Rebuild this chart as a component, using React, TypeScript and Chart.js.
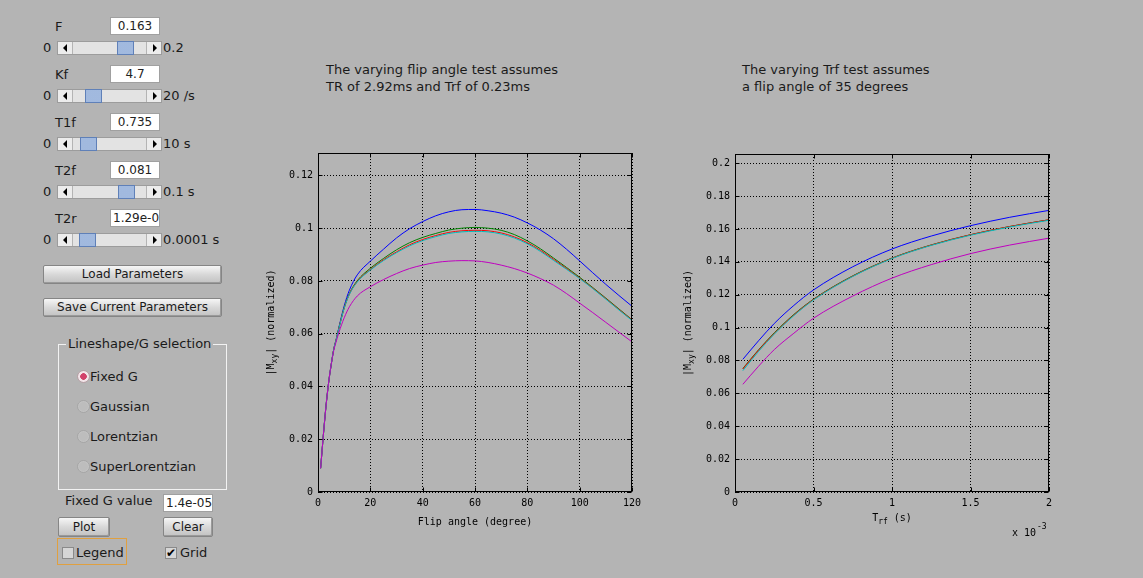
import React, { useEffect, useRef } from "react";
import { Chart, registerables } from "chart.js";
Chart.register(...registerables);

// ---------------- data ----------------
const flipAngles = [1, 2, 3, 4, 5, 6, 7, 8, 10, 12, 15, 20, 25, 30, 35, 40, 45, 50, 55, 60, 65, 70, 75, 80, 85, 90, 95, 100, 105, 110, 115, 120];
const flipBlue = [0.009, 0.021, 0.032, 0.041, 0.048, 0.054, 0.058, 0.0625, 0.0705, 0.0765, 0.0823, 0.0875, 0.092, 0.0963, 0.0998, 0.1025, 0.1047, 0.1062, 0.107, 0.1071, 0.1066, 0.1057, 0.1042, 0.102, 0.0993, 0.096, 0.092, 0.0876, 0.0831, 0.0787, 0.0745, 0.0704];
const flipGreen = [0.009, 0.021, 0.032, 0.041, 0.048, 0.054, 0.058, 0.0622, 0.0698, 0.0752, 0.0801, 0.0848, 0.0885, 0.0918, 0.0945, 0.0965, 0.098, 0.0993, 0.1, 0.1003, 0.1, 0.0992, 0.0976, 0.0952, 0.0922, 0.0887, 0.0851, 0.0814, 0.0775, 0.0735, 0.0694, 0.0653];
const flipRed = [0.009, 0.021, 0.032, 0.041, 0.048, 0.054, 0.058, 0.0621, 0.0697, 0.075, 0.0798, 0.0843, 0.088, 0.091, 0.0937, 0.0957, 0.0972, 0.0984, 0.099, 0.0992, 0.099, 0.0982, 0.0967, 0.0945, 0.0916, 0.0882, 0.0847, 0.0811, 0.0773, 0.0733, 0.0692, 0.0652];
const flipCyan = [0.009, 0.021, 0.032, 0.041, 0.048, 0.054, 0.058, 0.062, 0.0696, 0.0749, 0.0796, 0.0841, 0.0877, 0.0907, 0.0933, 0.0953, 0.0968, 0.098, 0.0986, 0.0988, 0.0986, 0.0978, 0.0963, 0.0941, 0.0912, 0.0878, 0.0844, 0.0809, 0.0771, 0.0731, 0.069, 0.065];
const flipMagenta = [0.009, 0.021, 0.032, 0.041, 0.048, 0.0535, 0.0572, 0.0605, 0.066, 0.0702, 0.0743, 0.0778, 0.0805, 0.0828, 0.0847, 0.086, 0.087, 0.0875, 0.0877, 0.0876, 0.087, 0.086, 0.0847, 0.083, 0.0809, 0.0784, 0.0752, 0.0716, 0.068, 0.0643, 0.0606, 0.0569];

const trfValues = [0.05, 0.15, 0.25, 0.375, 0.5, 0.75, 1, 1.25, 1.5, 1.75, 2]; // x 10^-3 s
const trfBlue = [0.0807, 0.092, 0.1025, 0.1135, 0.1229, 0.137, 0.1478, 0.1557, 0.162, 0.1671, 0.1713];
const trfGreen = [0.0751, 0.0865, 0.0968, 0.108, 0.1173, 0.1315, 0.1423, 0.1503, 0.1565, 0.1615, 0.1656];
const trfRed = [0.0748, 0.0862, 0.0965, 0.1077, 0.1171, 0.1313, 0.1422, 0.1502, 0.1565, 0.1615, 0.1656];
const trfCyan = [0.0738, 0.0855, 0.096, 0.1073, 0.1168, 0.1311, 0.142, 0.15, 0.1562, 0.1612, 0.1653];
const trfMagenta = [0.0655, 0.0765, 0.0866, 0.0966, 0.1057, 0.1192, 0.1301, 0.1383, 0.145, 0.1502, 0.1544];

const flipYMax = 0.1285;
const trfYMax = 0.2056;

// ---------------- styles ----------------
const COLORS = ["#0000ff", "#008000", "#ff0000", "#00bfbf", "#bf00bf"];
const BG = "#b4b4b4";
const UI_FONT = '"DejaVu Sans", sans-serif';
const MONO = '"DejaVu Sans Mono", monospace';

type Seg = { t: string; sub?: boolean; sup?: boolean };

function drawSegs(ctx: CanvasRenderingContext2D, segs: Seg[], cx: number, cy: number, size: number, align: "center" | "left") {
  const big = `${size}px ${MONO}`;
  const small = `${Math.round(size * 0.8)}px ${MONO}`;
  const widths = segs.map((s) => {
    ctx.font = s.sub || s.sup ? small : big;
    return ctx.measureText(s.t).width;
  });
  const total = widths.reduce((a, b) => a + b, 0);
  let x = align === "center" ? cx - total / 2 : cx;
  ctx.textAlign = "left";
  ctx.textBaseline = "middle";
  segs.forEach((s, i) => {
    ctx.font = s.sub || s.sup ? small : big;
    ctx.fillText(s.t, x, cy + (s.sub ? 4 : s.sup ? -6 : 0));
    x += widths[i];
  });
}

function matlabPlugin(o: any) {
  return {
    id: "matlabAxes",
    afterDraw(chart: any) {
      const { ctx, chartArea: a, scales } = chart;
      ctx.save();
      ctx.setLineDash([]);
      ctx.strokeStyle = "#000";
      ctx.lineWidth = 1;
      const l = Math.round(a.left) + 0.5;
      const r = Math.round(a.right) - 0.5;
      const t = Math.round(a.top) + 0.5;
      const b = Math.round(a.bottom) - 0.5;
      ctx.strokeRect(l, t, r - l, b - t);
      const tl = 4;
      ctx.beginPath();
      scales.x.ticks.forEach((tk: any) => {
        const px = Math.round(scales.x.getPixelForValue(tk.value)) + 0.5;
        ctx.moveTo(px, b);
        ctx.lineTo(px, b - tl);
        ctx.moveTo(px, t);
        ctx.lineTo(px, t + tl);
      });
      scales.y.ticks.forEach((tk: any) => {
        const py = Math.round(scales.y.getPixelForValue(tk.value)) + 0.5;
        ctx.moveTo(l, py);
        ctx.lineTo(l + tl, py);
        ctx.moveTo(r, py);
        ctx.lineTo(r - tl, py);
      });
      ctx.stroke();
      ctx.fillStyle = "#000";
      drawSegs(ctx, o.xTitle, (a.left + a.right) / 2, o.xTitleY, 10, "center");
      ctx.save();
      ctx.translate(o.yTitleX, (a.top + a.bottom) / 2);
      ctx.rotate(-Math.PI / 2);
      drawSegs(ctx, o.yTitle, 0, 0, 10, "center");
      ctx.restore();
      if (o.exponent) {
        drawSegs(ctx, [{ t: "x 10" }], o.exponent.x, o.exponent.y, 10, "left");
        drawSegs(ctx, [{ t: "-3", sup: true }], o.exponent.x + 25, o.exponent.y, 10, "left");
      }
      ctx.restore();
    },
  };
}

const fmt = (v: any) => String(parseFloat(Number(v).toFixed(4)));

function stepTicks(min: number, max: number, step: number) {
  const out: { value: number }[] = [];
  for (let k = 0; min + k * step <= max + 1e-9; k++) out.push({ value: parseFloat((min + k * step).toFixed(6)) });
  return out;
}

function buildConfig(o: any): any {
  const tickFont = { family: MONO, size: 10 };
  return {
    type: "line",
    data: {
      datasets: o.series.map((s: number[], i: number) => ({
        data: o.xs.map((x: number, j: number) => ({ x, y: s[j] })),
        borderColor: COLORS[i],
        borderWidth: 1,
        pointRadius: 0,
        fill: false,
        cubicInterpolationMode: "monotone",
        order: o.series.length - i,
      })),
    },
    options: {
      animation: false,
      responsive: false,
      devicePixelRatio: 1,
      layout: { padding: o.padding },
      plugins: { legend: { display: false }, tooltip: { enabled: false } },
      scales: {
        x: {
          type: "linear",
          min: o.xMin,
          max: o.xMax,
          afterFit: (s: any) => {
            s.height = o.xAxisHeight;
          },
          afterBuildTicks: (s: any) => {
            s.ticks = stepTicks(o.xMin, o.xMax, o.xStep);
          },
          ticks: { stepSize: o.xStep, font: tickFont, color: "#000", padding: 5, maxRotation: 0, autoSkip: false, callback: fmt },
          grid: { color: "#000", lineWidth: 1, drawTicks: false },
          border: { display: false, dash: [1, 2] },
        },
        y: {
          type: "linear",
          min: 0,
          max: o.yMax,
          afterFit: (s: any) => {
            s.width = o.yAxisWidth;
          },
          afterBuildTicks: (s: any) => {
            s.ticks = stepTicks(0, o.yMax, o.yStep);
          },
          ticks: { stepSize: o.yStep, font: tickFont, color: "#000", padding: 5, autoSkip: false, callback: fmt },
          grid: { color: "#000", lineWidth: 1, drawTicks: false },
          border: { display: false, dash: [1, 2] },
        },
      },
    },
    plugins: [matlabPlugin(o)],
  };
}

// ---------------- GUI pieces ----------------
const abs = (left: number, top: number, extra: any = {}): any => ({ position: "absolute", left, top, ...extra });

function Label({ left, top, text, size = 13 }: any) {
  return <div style={abs(left, top, { font: `${size}px ${UI_FONT}`, lineHeight: `${size}px`, color: "#1a1a1a", whiteSpace: "nowrap" })}>{text}</div>;
}

function TextBox({ left, top, width, height, text, align = "center" }: any) {
  return (
    <div
      style={abs(left, top, {
        width,
        height,
        boxSizing: "border-box",
        background: "#fff",
        border: "1px solid #a0a0a0",
        font: `12px ${UI_FONT}`,
        lineHeight: `${height - 2}px`,
        textAlign: align,
        overflow: "hidden",
        whiteSpace: "nowrap",
        color: "#222",
        paddingLeft: align === "left" ? 2 : 0,
      })}
    >
      {text}
    </div>
  );
}

function Button({ left, top, width, height, text }: any) {
  return (
    <div
      style={abs(left, top, {
        width,
        height,
        boxSizing: "border-box",
        background: "linear-gradient(#f6f6f6, #d8d8d8 50%, #c2c2c2)",
        border: "1px solid #858585",
        borderRadius: 2,
        boxShadow: "inset -1px -1px 0 #9a9a9a",
        font: `12px ${UI_FONT}`,
        lineHeight: `${height - 2}px`,
        textAlign: "center",
        color: "#1a1a1a",
        whiteSpace: "nowrap",
      })}
    >
      {text}
    </div>
  );
}

function Slider({ top, thumb }: any) {
  return (
    <div style={abs(57, top, { width: 105, height: 14, boxSizing: "border-box", background: "#e3e3e3", border: "1px solid #9c9c9c" })}>
      <div style={abs(0, 0, { width: 15, height: 12, boxSizing: "border-box", borderRight: "1px solid #b4b4b4", background: "#ececec" })}>
        <div style={abs(5, 2, { width: 0, height: 0, borderTop: "4px solid transparent", borderBottom: "4px solid transparent", borderRight: "4px solid #000" })} />
      </div>
      <div style={abs(88, 0, { width: 15, height: 12, boxSizing: "border-box", borderLeft: "1px solid #b4b4b4", background: "#ececec" })}>
        <div style={abs(6, 2, { width: 0, height: 0, borderTop: "4px solid transparent", borderBottom: "4px solid transparent", borderLeft: "4px solid #000" })} />
      </div>
      <div
        style={abs(thumb - 58, -1, {
          width: 17,
          height: 14,
          boxSizing: "border-box",
          border: "1px solid #5f80b8",
          background: "radial-gradient(circle, #8eaad6 0.6px, transparent 0.9px) 0 0 / 2px 2px, #c4d6ee",
        })}
      />
    </div>
  );
}

function Radio({ top, label, selected }: any) {
  return (
    <>
      <div
        style={abs(77, top, {
          width: 13,
          height: 13,
          borderRadius: "50%",
          boxSizing: "border-box",
          border: selected ? "1px solid #b8a0a6" : "1px solid #a6a6a6",
          background: selected
            ? "radial-gradient(circle, #d2406a 0 3px, #f2e4e8 3.6px 5px, #cfcfcf 6px)"
            : "radial-gradient(circle, #bdbdbd 0 4px, #c8c8c8 6px)",
        })}
      />
      <Label left={90} top={top} text={label} />
    </>
  );
}

function CheckBox({ left, top, checked }: any) {
  return (
    <div
      style={abs(left, top, {
        width: 12,
        height: 12,
        boxSizing: "border-box",
        background: "#d6d6d6",
        border: "1px solid #8a8a8a",
        font: `bold 12px ${UI_FONT}`,
        lineHeight: "10px",
        color: "#000",
        textAlign: "center",
        overflow: "visible",
      })}
    >
      {checked ? "\u2714" : ""}
    </div>
  );
}

const params = [
  { name: "F", value: "0.163", max: "0.2", thumb: 117 },
  { name: "Kf", value: "4.7", max: "20 /s", thumb: 85 },
  { name: "T1f", value: "0.735", max: "10 s", thumb: 80 },
  { name: "T2f", value: "0.081", max: "0.1 s", thumb: 118 },
  { name: "T2r", value: "1.29e-05", max: "0.0001 s", thumb: 79 },
];

export default function App() {
  const c1 = useRef<HTMLCanvasElement>(null);
  const c2 = useRef<HTMLCanvasElement>(null);

  useEffect(() => {
    const ch1 = new Chart(
      c1.current as HTMLCanvasElement,
      buildConfig({
        xs: flipAngles,
        series: [flipBlue, flipGreen, flipRed, flipCyan, flipMagenta],
        xMin: 0,
        xMax: 120,
        xStep: 20,
        yMax: flipYMax,
        yStep: 0.02,
        yAxisWidth: 63,
        xAxisHeight: 48,
        padding: { top: 13, right: 18, left: 0, bottom: 0 },
        xTitle: [{ t: "Flip angle (degree)" }],
        xTitleY: 382,
        yTitle: [{ t: "|M" }, { t: "xy", sub: true }, { t: "| (normalized)" }],
        yTitleX: 16,
      })
    );
    const ch2 = new Chart(
      c2.current as HTMLCanvasElement,
      buildConfig({
        xs: trfValues,
        series: [trfBlue, trfGreen, trfRed, trfCyan, trfMagenta],
        xMin: 0,
        xMax: 2,
        xStep: 0.5,
        yMax: trfYMax,
        yStep: 0.02,
        yAxisWidth: 63,
        xAxisHeight: 58,
        padding: { top: 14, right: 23, left: 0, bottom: 0 },
        xTitle: [{ t: "T" }, { t: "rf", sub: true }, { t: " (s)" }],
        xTitleY: 378,
        yTitle: [{ t: "|M" }, { t: "xy", sub: true }, { t: "| (normalized)" }],
        yTitleX: 16,
        exponent: { x: 340, y: 393 },
      })
    );
    return () => {
      ch1.destroy();
      ch2.destroy();
    };
  }, []);

  return (
    <div style={{ position: "fixed", left: 0, top: 0, width: 1143, height: 578, background: BG, overflow: "hidden", fontFamily: UI_FONT }}>
      {params.map((p, i) => (
        <React.Fragment key={p.name}>
          <Label left={55} top={20 + 48 * i} text={p.name} />
          <TextBox left={110} top={17 + 48 * i} width={50} height={18} text={p.value} align={i === 4 ? "left" : "center"} />
          <Label left={43} top={41 + 48 * i} text="0" />
          <Slider top={41 + 48 * i} thumb={p.thumb} />
          <Label left={163} top={41 + 48 * i} text={p.max} />
        </React.Fragment>
      ))}

      <Button left={43} top={265} width={179} height={19} text="Load Parameters" />
      <Button left={43} top={298} width={179} height={19} text="Save Current Parameters" />

      <div style={abs(58, 344, { width: 169, height: 146, boxSizing: "border-box", border: "1px solid #f2f2f2" })} />
      <div style={abs(66, 337, { background: BG, padding: "0 2px", font: `13px ${UI_FONT}`, lineHeight: "14px", color: "#1a1a1a", whiteSpace: "nowrap" })}>
        Lineshape/G selection
      </div>
      <Radio top={370} label="Fixed G" selected />
      <Radio top={400} label="Gaussian" />
      <Radio top={430} label="Lorentzian" />
      <Radio top={460} label="SuperLorentzian" />

      <Label left={65} top={494} text="Fixed G value" />
      <TextBox left={163} top={494} width={50} height={18} text="1.4e-05" align="left" />
      <Button left={58} top={517} width={52} height={20} text="Plot" />
      <Button left={163} top={517} width={50} height={20} text="Clear" />

      <div style={abs(57, 538, { width: 70, height: 27, boxSizing: "border-box", border: "1px solid #e0a040" })} />
      <CheckBox left={62} top={547} checked={false} />
      <Label left={76} top={546} text="Legend" />
      <CheckBox left={165} top={547} checked />
      <Label left={180} top={546} text="Grid" />

      <div style={abs(326, 61, { font: `13px ${UI_FONT}`, lineHeight: "17px", color: "#1a1a1a", whiteSpace: "nowrap" })}>
        The varying flip angle test assumes
        <br />
        TR of 2.92ms and Trf of 0.23ms
      </div>
      <div style={abs(742, 61, { font: `13px ${UI_FONT}`, lineHeight: "17px", color: "#1a1a1a", whiteSpace: "nowrap" })}>
        The varying Trf test assumes
        <br />
        a flip angle of 35 degrees
      </div>

      <canvas ref={c1} width={395} height={400} style={abs(255, 140, { width: 395, height: 400 })} />
      <canvas ref={c2} width={400} height={410} style={abs(672, 140, { width: 400, height: 410 })} />
    </div>
  );
}
